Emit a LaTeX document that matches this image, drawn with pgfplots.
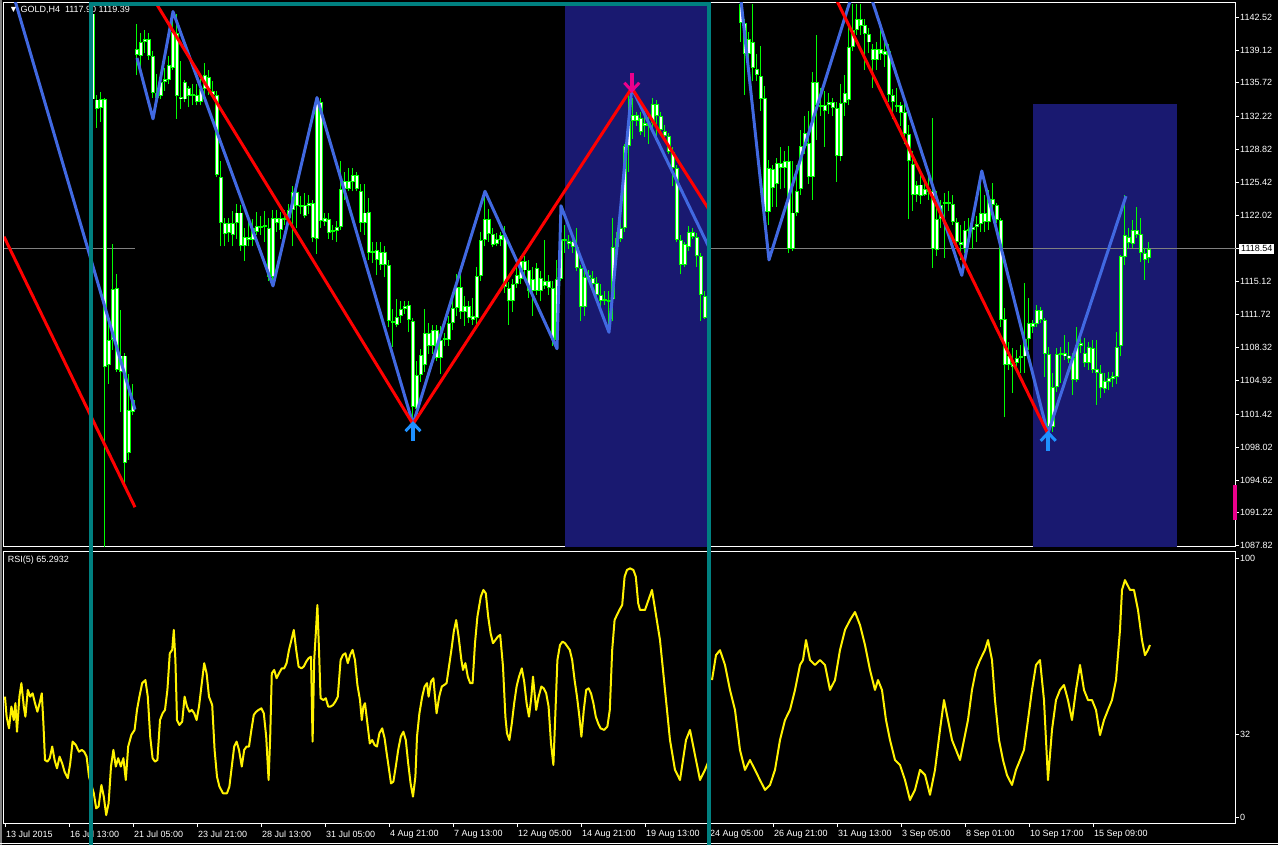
\documentclass[border=0pt]{standalone}
\usepackage{pgfplots}
\pgfplotsset{compat=1.18}
\usepackage{pgfplotstable}
\usepackage{fontspec}
\setmainfont{Liberation Sans}
\definecolor{lime}{RGB}{0,255,0}
\definecolor{zzblue}{RGB}{65,105,225}
\definecolor{navyrect}{RGB}{25,25,112}
\definecolor{tealbox}{RGB}{0,128,128}
\definecolor{dodger}{RGB}{30,144,255}
\definecolor{bidgray}{RGB}{128,128,128}

\pgfdeclareplotmark{mtup}{%
  \pgfpathrectanglecorners{\pgfpoint{-2pt}{-19pt}}{\pgfpoint{2pt}{-1pt}}\pgfusepathqfill
  \pgfsetlinewidth{3pt}%
  \pgfpathmoveto{\pgfpoint{-7.5pt}{-9pt}}\pgfpathlineto{\pgfpoint{0pt}{-1pt}}\pgfpathlineto{\pgfpoint{7.5pt}{-9pt}}\pgfusepathqstroke}
\pgfdeclareplotmark{mtdown}{%
  \pgfpathrectanglecorners{\pgfpoint{-2pt}{19pt}}{\pgfpoint{2pt}{1pt}}\pgfusepathqfill
  \pgfsetlinewidth{3pt}%
  \pgfpathmoveto{\pgfpoint{-7.5pt}{9pt}}\pgfpathlineto{\pgfpoint{0pt}{1pt}}\pgfpathlineto{\pgfpoint{7.5pt}{9pt}}\pgfusepathqstroke}

% bar index, low, high, body bottom, body top
\pgfplotstableread{
x lo hi bb bt
22 1133.7 1143.3 1134.0 1142.9
23 1131.1 1134.5 1133.0 1134.0
24 1131.7 1134.8 1133.1 1134.0
25 1087.7 1134.2 1106.3 1134.0
26 1104.6 1111.7 1106.5 1109.1
27 1108.1 1119.0 1109.1 1114.4
28 1105.8 1115.9 1106.0 1114.5
29 1101.7 1112.2 1105.8 1107.5
30 1094.2 1107.8 1096.4 1107.5
31 1096.7 1105.6 1097.4 1101.9
32 1101.3 1104.6 1101.7 1102.9
33 1136.5 1141.8 1138.6 1139.2
34 1137.3 1140.9 1138.5 1140.0
35 1138.8 1141.2 1140.0 1140.3
36 1138.1 1140.9 1138.5 1140.3
37 1134.2 1139.0 1134.7 1138.5
38 1134.0 1136.6 1134.2 1134.7
39 1134.0 1136.6 1134.4 1135.8
40 1134.9 1137.3 1135.8 1136.1
41 1135.6 1138.5 1136.0 1137.6
42 1137.1 1143.1 1137.3 1141.0
43 1132.0 1142.9 1134.4 1140.9
44 1133.0 1138.0 1134.0 1134.3
45 1133.7 1136.0 1134.0 1135.8
46 1133.2 1135.4 1134.4 1135.2
47 1133.4 1135.6 1134.4 1134.6
48 1133.4 1135.6 1133.7 1134.5
49 1133.4 1136.1 1133.7 1135.1
50 1134.5 1137.8 1135.1 1136.5
51 1134.5 1137.1 1135.1 1136.3
52 1134.2 1135.9 1134.5 1134.9
53 1126.0 1134.9 1126.2 1134.5
54 1118.8 1127.6 1121.2 1126.0
55 1118.8 1121.7 1120.1 1121.2
56 1119.3 1121.7 1120.2 1121.2
57 1118.8 1122.5 1120.0 1121.2
58 1119.6 1123.2 1121.2 1122.3
59 1118.3 1123.1 1118.8 1122.3
60 1117.3 1120.7 1118.8 1119.8
61 1118.8 1121.4 1119.5 1119.8
62 1118.8 1121.6 1119.5 1120.7
63 1120.0 1122.4 1120.3 1120.9
64 1120.0 1121.9 1120.7 1120.9
65 1119.3 1122.5 1120.8 1121.0
66 1115.2 1121.7 1115.6 1120.7
67 1114.7 1122.6 1115.6 1121.7
68 1120.3 1122.6 1121.2 1121.7
69 1119.6 1122.4 1120.5 1121.7
70 1121.0 1122.6 1121.5 1121.7
71 1121.0 1123.2 1121.7 1122.6
72 1118.8 1125.0 1122.6 1124.4
73 1120.7 1124.7 1123.0 1124.4
74 1122.1 1124.0 1122.9 1123.1
75 1121.7 1124.3 1121.9 1123.1
76 1122.1 1124.1 1123.0 1123.3
77 1119.3 1123.6 1119.7 1123.3
78 1118.0 1134.2 1119.6 1133.7
79 1120.7 1134.2 1121.4 1133.7
80 1120.9 1122.2 1121.3 1121.7
81 1119.6 1122.2 1120.2 1121.6
82 1119.5 1121.0 1120.3 1120.5
83 1119.3 1121.4 1120.4 1120.8
84 1120.5 1127.6 1120.8 1124.7
85 1123.6 1126.5 1124.7 1125.6
86 1124.5 1126.9 1124.7 1125.6
87 1124.5 1126.9 1125.5 1126.2
88 1124.5 1126.5 1124.7 1126.2
89 1120.3 1125.3 1121.2 1124.5
90 1120.0 1125.3 1121.2 1122.3
91 1117.4 1123.8 1118.1 1122.4
92 1117.1 1119.3 1118.1 1118.3
93 1115.8 1119.3 1117.4 1118.4
94 1116.4 1119.3 1116.9 1118.2
95 1115.6 1118.8 1116.9 1118.2
96 1110.4 1117.4 1111.1 1116.9
97 1108.4 1112.3 1110.9 1111.1
98 1110.4 1113.3 1110.7 1111.5
99 1110.9 1113.1 1111.6 1112.3
100 1111.8 1113.1 1112.3 1112.6
101 1109.9 1113.1 1111.2 1112.7
102 1100.3 1111.4 1102.2 1111.1
103 1100.9 1106.9 1102.0 1105.5
104 1104.8 1108.2 1105.5 1107.6
105 1105.8 1112.3 1106.5 1109.8
106 1107.7 1110.9 1108.5 1109.8
107 1107.7 1110.7 1108.5 1110.1
108 1106.9 1110.7 1107.2 1110.1
109 1105.6 1110.6 1107.2 1109.1
110 1108.5 1109.8 1109.1 1109.3
111 1108.5 1111.6 1109.1 1110.9
112 1110.1 1113.7 1110.9 1112.4
113 1111.6 1115.9 1112.4 1114.6
114 1111.3 1116.7 1112.0 1114.6
115 1110.6 1113.7 1112.0 1112.6
116 1110.9 1113.1 1111.4 1112.6
117 1110.7 1113.5 1111.2 1111.6
118 1110.4 1116.7 1111.4 1115.7
119 1115.2 1120.3 1115.7 1119.5
120 1118.8 1124.5 1119.5 1121.6
121 1119.3 1122.7 1120.1 1121.6
122 1118.7 1120.7 1118.9 1120.1
123 1118.8 1120.2 1119.0 1119.6
124 1118.8 1120.3 1119.5 1120.0
125 1114.0 1120.9 1114.6 1120.0
126 1110.7 1115.1 1113.1 1114.5
127 1112.0 1115.4 1113.1 1114.9
128 1114.5 1117.3 1114.9 1115.8
129 1114.9 1117.8 1115.4 1117.3
130 1115.6 1117.8 1116.3 1117.3
131 1113.5 1117.4 1114.2 1116.3
132 1111.6 1116.7 1114.2 1115.4
133 1113.8 1117.1 1114.2 1116.6
134 1113.1 1116.2 1114.2 1115.5
135 1114.4 1119.5 1114.7 1115.2
136 1113.8 1115.8 1114.5 1115.2
137 1108.5 1115.2 1109.1 1114.5
138 1108.2 1117.4 1109.1 1115.4
139 1115.2 1123.1 1115.4 1119.6
140 1118.1 1121.0 1119.4 1119.6
141 1118.5 1120.0 1119.0 1119.4
142 1118.1 1120.2 1118.7 1119.3
143 1116.2 1120.7 1116.6 1118.7
144 1111.1 1116.9 1112.5 1116.6
145 1111.6 1116.6 1112.5 1115.6
146 1115.2 1116.4 1115.5 1115.8
147 1114.5 1116.2 1114.9 1115.5
148 1113.5 1115.6 1113.8 1115.0
149 1112.5 1114.9 1113.1 1113.8
150 1112.7 1114.2 1113.1 1113.3
151 1110.6 1114.2 1113.0 1113.2
152 1111.1 1121.7 1113.3 1118.7
153 1118.1 1120.3 1118.7 1119.7
154 1119.3 1121.7 1119.6 1120.7
155 1120.3 1129.4 1120.7 1129.2
156 1126.5 1134.7 1129.2 1131.8
157 1129.9 1134.2 1131.8 1132.4
158 1131.3 1132.7 1131.8 1132.4
159 1130.3 1132.7 1130.6 1132.1
160 1130.1 1132.3 1131.3 1131.6
161 1129.4 1132.7 1131.3 1131.6
162 1130.8 1134.2 1131.6 1133.5
163 1129.8 1133.9 1132.3 1133.5
164 1130.5 1132.7 1130.8 1132.3
165 1129.8 1131.4 1130.2 1130.7
166 1128.4 1130.5 1128.6 1130.2
167 1125.0 1129.1 1126.9 1128.6
168 1119.3 1127.2 1119.5 1126.9
169 1115.9 1120.0 1116.9 1119.5
170 1116.7 1119.3 1116.9 1119.0
171 1118.3 1120.9 1118.7 1120.3
172 1119.6 1120.7 1119.8 1120.3
173 1116.7 1120.2 1117.8 1119.8
174 1111.1 1118.1 1113.8 1117.8
175 1111.3 1114.2 1111.4 1113.7
184 1140.0 1144.3 1141.9 1143.9
185 1134.5 1142.3 1138.7 1141.9
186 1137.1 1141.0 1138.7 1140.3
187 1135.9 1143.9 1137.3 1140.0
188 1135.9 1138.7 1136.5 1137.2
189 1132.8 1139.5 1134.1 1136.4
190 1121.0 1135.4 1122.4 1134.2
191 1121.0 1127.7 1122.4 1126.9
192 1122.9 1127.2 1124.8 1126.8
193 1122.9 1127.9 1125.3 1127.4
194 1124.7 1129.1 1126.9 1127.4
195 1124.8 1128.7 1126.9 1127.6
196 1118.1 1129.2 1118.5 1127.6
197 1118.3 1127.6 1118.5 1122.3
198 1121.9 1127.2 1122.3 1124.5
199 1124.1 1130.8 1124.7 1129.2
200 1128.4 1132.3 1129.2 1130.5
201 1125.3 1132.8 1126.0 1129.5
202 1123.6 1136.8 1126.0 1135.8
203 1129.8 1140.7 1133.4 1135.8
204 1132.3 1135.2 1133.2 1133.4
205 1129.1 1134.9 1132.8 1133.4
206 1132.5 1134.7 1133.4 1133.7
207 1132.3 1134.2 1133.1 1133.7
208 1125.5 1133.7 1128.2 1133.1
209 1127.6 1135.6 1128.1 1133.6
210 1132.3 1136.5 1133.6 1134.7
211 1133.4 1141.7 1133.9 1139.4
212 1139.0 1143.9 1139.4 1141.2
213 1140.7 1143.9 1141.2 1142.3
214 1140.7 1143.9 1141.6 1142.3
215 1137.1 1142.3 1140.8 1141.7
216 1138.8 1141.4 1139.9 1140.8
217 1135.2 1139.7 1138.1 1139.2
218 1137.1 1140.0 1138.1 1139.2
219 1138.1 1141.2 1138.7 1139.2
220 1137.4 1140.0 1138.6 1139.0
221 1133.7 1139.7 1134.5 1139.0
222 1132.0 1135.1 1133.7 1134.5
223 1132.7 1135.2 1133.2 1133.4
224 1131.3 1133.7 1132.6 1133.4
225 1129.4 1133.7 1130.4 1132.7
226 1121.6 1131.4 1127.6 1130.4
227 1122.5 1128.7 1124.1 1127.3
228 1123.4 1125.6 1124.1 1125.1
229 1123.2 1126.5 1124.0 1125.2
230 1124.0 1125.8 1124.1 1124.7
231 1123.6 1126.2 1124.4 1124.7
232 1116.6 1132.1 1118.5 1124.5
233 1117.8 1124.5 1118.4 1121.6
234 1120.7 1123.6 1121.6 1123.1
235 1117.6 1124.3 1123.2 1123.4
236 1122.5 1124.5 1123.2 1123.4
237 1121.0 1124.1 1121.3 1123.2
238 1118.8 1121.7 1119.3 1121.3
239 1117.4 1121.0 1118.9 1119.2
240 1118.1 1121.4 1118.5 1120.5
241 1119.3 1121.7 1120.4 1120.6
242 1118.5 1121.7 1120.5 1120.8
243 1119.3 1121.9 1120.8 1121.1
244 1120.3 1126.5 1121.1 1122.2
245 1120.3 1124.1 1121.3 1122.2
246 1120.5 1124.6 1121.3 1123.7
247 1121.8 1125.4 1123.1 1123.7
248 1121.2 1123.3 1121.5 1123.1
249 1110.5 1121.7 1111.2 1121.5
250 1101.1 1112.4 1106.5 1111.3
251 1106.0 1108.9 1106.5 1107.5
252 1103.6 1108.3 1106.3 1106.7
253 1106.0 1108.1 1106.7 1107.2
254 1105.7 1108.6 1107.2 1107.4
255 1105.7 1115.0 1107.4 1109.2
256 1108.1 1113.5 1109.2 1110.9
257 1109.8 1111.2 1110.5 1110.9
258 1110.5 1112.7 1110.8 1112.2
259 1110.9 1112.5 1111.2 1112.2
260 1105.3 1111.4 1107.7 1111.2
261 1098.8 1108.4 1100.1 1107.7
262 1099.6 1105.7 1100.1 1104.2
263 1103.7 1108.3 1104.2 1107.7
264 1104.7 1108.4 1107.6 1107.8
265 1107.0 1109.6 1107.4 1107.8
266 1106.7 1108.9 1107.1 1107.5
267 1103.4 1107.8 1105.0 1107.2
268 1104.8 1110.4 1105.0 1108.6
269 1107.8 1109.3 1108.5 1108.8
270 1106.3 1109.3 1106.7 1107.8
271 1106.0 1108.9 1106.7 1108.4
272 1105.7 1109.1 1106.0 1108.3
273 1102.4 1109.1 1105.7 1106.1
274 1103.1 1106.5 1104.1 1105.7
275 1103.6 1105.7 1104.0 1104.9
276 1103.9 1105.8 1104.8 1105.2
277 1104.2 1105.8 1105.1 1105.4
278 1104.5 1109.9 1105.3 1108.4
279 1107.4 1117.9 1108.5 1117.8
280 1116.9 1124.1 1117.7 1120.0
281 1118.6 1120.7 1119.1 1119.8
282 1118.6 1121.5 1119.0 1120.5
283 1119.7 1122.9 1120.0 1120.5
284 1117.2 1121.7 1118.1 1120.1
285 1115.3 1118.6 1117.4 1118.1
286 1117.1 1119.3 1117.6 1118.5
}\candles

\pgfplotstableread{
x v
0 46.6
0.4 38.9
1.0 34.4
1.6 42.8
2.2 37.6
2.6 44.1
3.0 33.1
3.6 46.6
4.1 51.8
4.7 42.8
5.1 38.9
5.7 49.2
6.3 46.6
6.9 47.9
7.5 44.1
8.1 40.8
8.75 44.7
9.2 47.9
9.6 36.3
10.0 22.2
10.6 21.6
11.2 22.9
11.8 27.4
12.4 22.2
13.0 19.0
13.65 23.5
14.3 20.9
14.9 17.7
15.7 15.2
16.3 20.9
16.9 29.3
17.7 28.0
18.5 25.4
19.2 26.1
19.8 25.4
20.4 23.5
21.0 15.8
22.2 9.4
22.8 3.6
23.4 4.3
24.1 12.6
24.7 8.1
25.3 1.0
25.9 5.5
26.5 19.7
27.1 26.1
27.7 19.7
28.3 22.9
28.95 19.7
29.6 22.9
30.2 14.5
30.8 27.4
31.6 31.9
32.4 33.8
33.0 41.5
33.6 46.6
34.3 51.8
35.1 53.0
35.7 46.6
36.3 31.2
36.9 22.9
37.5 21.6
38.1 22.2
38.75 37.6
39.4 40.2
40.0 41.5
40.6 49.2
41.2 63.3
41.8 64.6
42.2 72.3
42.6 60.7
43.0 37.6
43.6 35.7
44.3 37.0
44.9 46.6
45.5 42.8
46.1 40.8
46.7 41.5
47.3 40.2
47.9 37.6
48.5 42.8
49.2 51.8
49.8 59.5
50.4 55.6
51.0 46.6
51.8 43.4
52.4 26.1
53.0 15.8
53.6 12.0
54.5 9.4
55.5 9.4
56.1 12.0
56.7 19.7
57.3 27.4
57.9 29.3
58.5 26.1
59.2 19.7
59.8 26.1
60.4 27.4
61.0 27.4
61.6 33.8
62.2 39.6
62.8 40.8
63.4 41.5
64.1 42.1
64.7 40.2
65.3 31.2
65.9 14.5
66.3 31.2
66.7 55.6
67.3 56.9
67.9 53.7
68.5 55.6
69.2 57.5
69.8 57.5
70.4 59.5
71.0 64.6
71.6 68.4
72.2 72.3
72.8 64.6
73.4 58.2
74.1 57.5
74.7 58.2
75.3 60.1
75.9 61.4
76.5 62.0
76.9 29.3
77.3 60.7
77.7 71.0
78.1 81.9
78.5 64.6
78.9 46.0
79.6 45.3
80.2 46.0
80.8 42.8
81.4 42.8
82.0 43.4
82.6 44.7
83.2 46.6
83.9 60.7
84.5 62.7
85.1 63.3
85.7 59.5
86.3 62.7
86.9 64.6
87.5 60.7
88.1 51.1
88.75 45.3
89.2 37.6
89.6 42.8
90.0 44.1
90.6 36.3
91.2 28.6
91.8 29.9
92.4 28.0
93.0 27.4
93.6 32.5
94.3 34.4
94.9 30.6
95.3 26.1
95.9 19.7
96.5 13.2
97.1 13.9
97.7 19.7
98.3 26.1
98.95 31.2
99.6 33.1
100.2 29.9
100.8 20.9
101.4 13.2
102.0 8.1
102.6 15.8
103.0 31.2
103.6 40.2
104.3 46.6
104.9 50.5
105.5 51.8
105.9 46.6
106.5 52.4
107.1 53.7
107.5 46.6
107.9 40.2
108.55 46.6
109.2 50.5
109.8 51.1
110.4 51.8
111.0 58.2
111.6 64.6
112.2 71.7
112.8 76.1
113.4 69.7
114.1 60.7
114.5 56.9
115.1 59.5
115.7 54.3
116.3 51.8
116.9 51.8
117.5 67.2
118.1 77.4
118.95 85.1
119.6 87.7
120.2 86.4
120.8 77.4
121.4 71.0
122.0 67.2
122.6 68.4
123.2 69.7
123.8 70.4
124.5 58.2
125.1 38.9
125.5 32.5
126.1 29.9
126.7 36.3
127.3 44.1
127.9 50.5
128.5 54.3
129.2 57.5
129.8 52.4
130.4 44.1
131.0 38.9
131.6 46.6
132.0 54.3
132.4 47.9
132.8 41.5
133.4 46.6
134.1 50.5
134.7 49.8
135.3 47.9
135.9 42.8
136.5 28.6
137.1 20.3
137.5 36.3
138.1 60.7
138.75 66.5
139.4 67.8
140.0 67.2
140.6 65.9
141.2 64.6
141.8 60.7
142.4 53.0
143.0 46.6
143.6 38.9
144.1 31.2
144.7 41.5
145.3 49.2
145.9 49.8
146.5 47.9
147.1 44.1
147.7 38.9
148.3 36.3
148.9 34.4
149.8 33.8
150.6 35.1
151.2 41.5
151.8 64.6
152.4 76.1
153.0 78.1
153.6 80.0
154.3 81.9
154.9 92.8
155.5 95.4
156.3 96.0
157.1 95.4
157.7 92.8
158.3 82.6
158.75 80.0
160 80.0
161.75 87.7
163.75 68.4
165 49.2
166.25 29.9
167.5 18.4
168.75 14.5
170.25 29.9
171.25 33.8
172.5 24.1
173.75 14.5
175 18.4
176 22.2
}\rsiA

\pgfplotstableread{
x v
176.75 53.0
177.75 62.6
178.75 64.5
180 58.8
181.25 49.2
182.5 41.5
183.75 26.1
185 18.4
186.25 22.2
187.5 18.4
188.75 14.5
190 10.7
191.25 12.6
192.5 18.4
193.75 29.9
195 37.6
196.25 41.5
197.5 49.2
198.75 58.8
199.5 60.7
200.25 68.4
201.25 60.7
202.5 58.8
203.75 60.7
205 58.8
206.25 49.2
207.5 53.0
208.75 64.6
210 72.3
211.25 76.1
212.5 79.2
213.75 74.2
215 66.5
216.25 56.9
217.5 49.2
218.25 53.0
219.25 49.2
220.25 37.6
221.25 29.9
222.5 22.2
223.75 20.3
225 14.5
226.25 6.8
227.5 10.7
228.75 18.4
230 16.5
231.25 8.8
232.5 18.4
233.75 33.8
234.75 45.3
235.75 37.6
236.75 29.9
237.75 26.1
238.75 22.2
239.75 29.9
240.75 37.6
241.75 49.2
242.75 56.9
243.75 60.7
245 64.6
245.75 68.4
246.75 60.7
247.5 45.3
248.5 29.9
249.5 22.2
250.5 16.4
251.75 12.6
252.75 18.4
253.75 22.2
254.75 26.1
255.75 37.6
256.75 49.2
257.75 58.8
258.75 60.7
259.75 45.3
260.75 14.5
261.75 33.8
262.75 45.3
263.75 49.2
264.75 51.1
265.75 45.3
266.75 37.6
267.75 49.2
268.75 58.8
269.75 49.2
270.75 45.3
271.75 45.3
272.75 41.5
273.75 31.8
274.75 37.6
275.75 41.5
276.75 45.3
277.75 53.0
278.75 72.3
279.25 87.7
280 91.5
281.25 87.7
282.25 87.7
283.25 80.0
284.25 68.4
285 62.6
285.75 64.6
286.25 66.5
}\rsiB

\begin{document}
\begin{tikzpicture}[x=1pt,y=1pt]
\useasboundingbox (0,0) rectangle (1278,845);
\fill[black] (0,0) rectangle (1278,845);

% ---------------- main price panel ----------------
\begin{axis}[
  at={(4pt,298pt)}, anchor=south west, scale only axis,
  width=1232pt, height=544pt,
  xmin=-0.25, xmax=307.75, ymin=1087.68, ymax=1143.99,
  axis line style={white, line width=1pt},
  axis background/.style={fill=black},
  xtick=\empty,
  ytick={1087.82,1091.22,1094.62,1098.02,1101.42,1104.92,1108.32,1111.72,1115.12,1122.02,1125.42,1128.82,1132.22,1135.72,1139.12,1142.52},
  yticklabels={1087.82,1091.22,1094.62,1098.02,1101.42,1104.92,1108.32,1111.72,1115.12,1122.02,1125.42,1128.82,1132.22,1135.72,1139.12,1142.52},
  ytick pos=right, yticklabel pos=right,
  tick align=outside, major tick length=3pt,
  tick style={white, line width=0.8pt},
  yticklabel style={font=\fontsize{9}{10}\selectfont, text=white, anchor=west, inner xsep=1pt},
  extra y ticks={1118.54}, extra y tick labels={1118.54},
  extra y tick style={yticklabel style={fill=white, text=black, inner xsep=2pt, inner ysep=1.5pt}},
]
% highlighted time zones
\addplot[fill=navyrect, draw=none, forget plot] coordinates {(140,1080) (176,1080) (176,1150) (140,1150)};
\addplot[fill=navyrect, draw=none, forget plot] coordinates {(256.9,1080) (292.9,1080) (292.9,1133.5) (256.9,1133.5)};
% bid line
\addplot[bidgray, line width=1pt, forget plot] coordinates {(-0.25,1118.54) (32.5,1118.54)};
\addplot[bidgray, line width=1pt, forget plot] coordinates {(176,1118.54) (307.75,1118.54)};
% candle wicks
\addplot[lime, line width=1pt, line cap=butt, forget plot, quiver={u=0, v=\thisrow{hi}-\thisrow{lo}}]
  table[x=x, y=lo] {\candles};
% candle bodies: green edge, light centre
\addplot[lime, line width=4pt, line cap=butt, forget plot, quiver={u=0, v=\thisrow{bt}-\thisrow{bb}}]
  table[x=x, y=bb] {\candles};
\addplot[white, line width=1.2pt, line cap=butt, forget plot, quiver={u=0, v={max(\thisrow{bt}-\thisrow{bb}-0.2,0)}}]
  table[x=x, y expr={\thisrow{bb}+0.1}] {\candles};
% minor zigzag (blue)
\addplot[zzblue, line width=3pt, line join=round] coordinates {(1.75,1145.3) (32.5,1101.9)};
\addplot[zzblue, line width=3pt, line join=round] coordinates {(33,1138.3) (37,1132.0) (42,1143.1) (67,1114.7) (78,1134.2) (102,1100.4) (120,1124.5) (138,1108.2) (139,1123.0) (151,1109.9) (156.7,1135.2) (176,1118.7)};
\addplot[zzblue, line width=3pt, line join=round] coordinates {(183.5,1146.2) (191,1117.4) (214,1147.8) (239.2,1115.8) (244.2,1126.6) (260.7,1099.4) (280.25,1124.0)};
% major zigzag (red)
\addplot[red, line width=3pt, line join=round] coordinates {(-0.25,1119.8) (32.5,1091.8)};
\addplot[red, line width=3pt, line join=round] coordinates {(33,1147.2) (102,1100.4) (156.7,1135.2) (176,1122.6)};
\addplot[red, line width=3pt, line join=round] coordinates {(206,1145.9) (260.7,1099.4)};
% arrows
\addplot[only marks, mark=mtup, mark options={draw=dodger, fill=dodger}] coordinates {(102,1100.6) (260.8,1099.6)};
\addplot[only marks, mark=mtdown, mark options={draw=magenta, fill=magenta}] coordinates {(156.7,1134.8)};
\node[anchor=west, text=white, font=\fontsize{9}{10}\selectfont, inner sep=0pt] at (rel axis cs:0.004,0.987) {▼ GOLD,H4 \ 1117.90 1119.39};
\end{axis}

% ---------------- RSI panel ----------------
\begin{axis}[
  at={(4pt,21pt)}, anchor=south west, scale only axis,
  width=1232pt, height=272.3pt,
  xmin=-0.25, xmax=307.75, ymin=-2.43, ymax=102.43,
  axis line style={white, line width=1pt},
  axis background/.style={fill=black},
  xtick={0,16,32,48,64,80,96,112,128,144,160,176,192,208,224,240,256,272},
  xticklabels={13 Jul 2015,16 Jul 13:00,21 Jul 05:00,23 Jul 21:00,28 Jul 13:00,31 Jul 05:00,4 Aug 21:00,7 Aug 13:00,12 Aug 05:00,14 Aug 21:00,19 Aug 13:00,24 Aug 05:00,26 Aug 21:00,31 Aug 13:00,3 Sep 05:00,8 Sep 01:00,10 Sep 17:00,15 Sep 09:00},
  xtick pos=left, xticklabel pos=left,
  ytick={0,32,100}, yticklabels={0,32,100},
  ytick pos=right, yticklabel pos=right,
  tick align=outside, major tick length=3pt,
  tick style={white, line width=0.8pt},
  xticklabel style={font=\fontsize{9}{10}\selectfont, text=white, anchor=west, inner xsep=1pt, yshift=-7pt},
  yticklabel style={font=\fontsize{9}{10}\selectfont, text=white, anchor=west, inner xsep=1pt},
]
\addplot[yellow, line width=2pt, line join=round] table[x=x, y=v] {\rsiA};
\addplot[yellow, line width=2pt, line join=round] table[x=x, y=v] {\rsiB};
\node[anchor=west, text=white, font=\fontsize{9}{10}\selectfont, inner sep=0pt] at (rel axis cs:0.003,0.97) {RSI(5) 65.2932};
\end{axis}

% ---------------- overlay annotations ----------------
\begin{axis}[
  at={(0pt,0pt)}, anchor=south west, scale only axis,
  width=1278pt, height=845pt,
  xmin=-1.25, xmax=318.25, ymin=0, ymax=845,
  hide axis, clip=false,
]
\addplot[gray, line width=2pt] coordinates {(-1,0) (-1,845)};
\addplot[white, line width=1pt] coordinates {(-1.25,1) (318.25,1)};
\addplot[magenta, line width=4pt] coordinates {(307.5,325) (307.5,360)};
\addplot[tealbox, line width=4pt] coordinates {(21.575,-10) (21.575,840.8) (175.925,840.8) (175.925,-10)};
\end{axis}
\end{tikzpicture}
\end{document}
